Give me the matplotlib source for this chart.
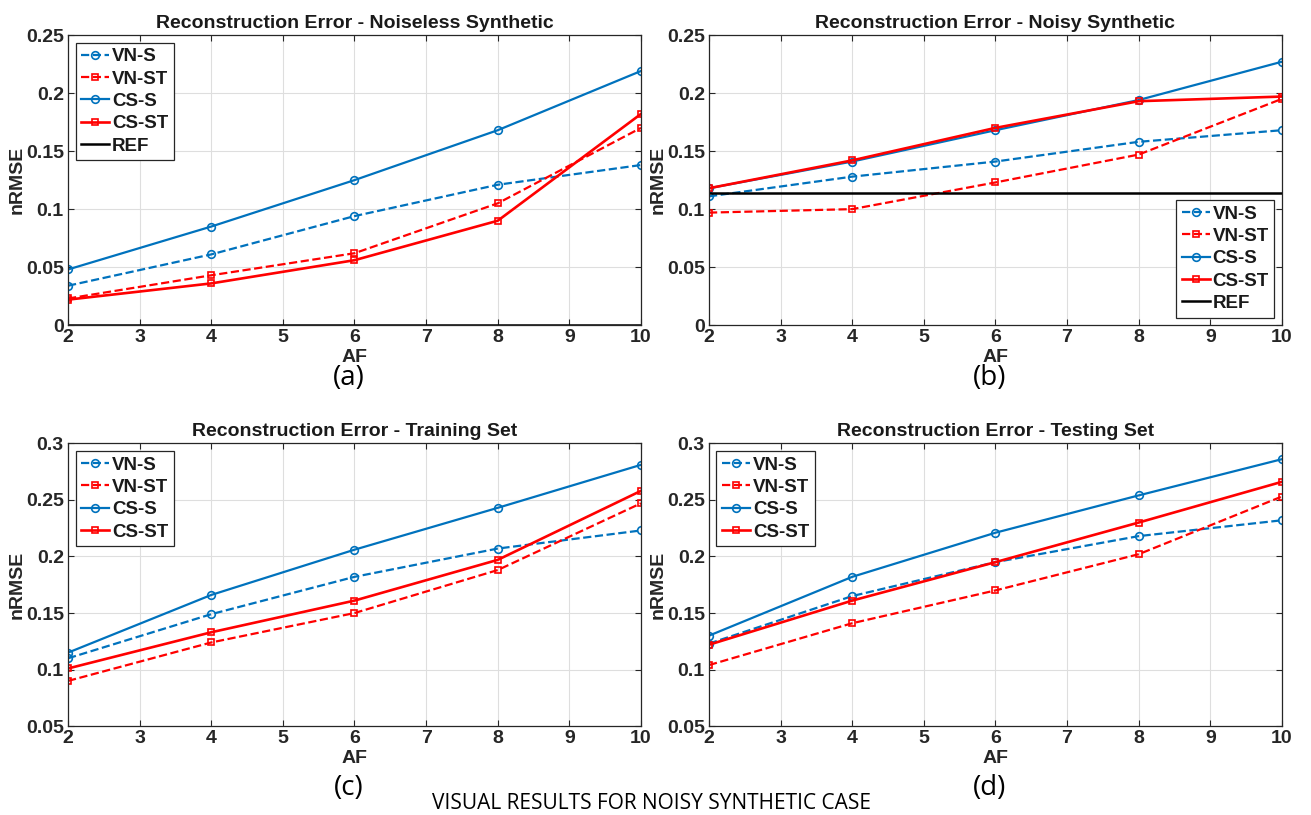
import numpy as np
import matplotlib
matplotlib.use("Agg")
from matplotlib import pyplot as plt

plt.rcParams['font.family'] = ['Liberation Sans', 'DejaVu Sans']

af = [2, 4, 6, 8, 10]

# ---- (a) noiseless synthetic ----
a_vn_s = [0.034, 0.061, 0.094, 0.121, 0.138]
a_vn_st = [0.023, 0.043, 0.062, 0.105, 0.170]
a_cs_s = [0.048, 0.085, 0.125, 0.168, 0.219]
a_cs_st = [0.022, 0.036, 0.056, 0.090, 0.182]
a_ref = 0.0

# ---- (b) noisy synthetic ----
b_vn_s = [0.111, 0.128, 0.141, 0.158, 0.168]
b_vn_st = [0.097, 0.100, 0.123, 0.147, 0.195]
b_cs_s = [0.118, 0.141, 0.168, 0.194, 0.227]
b_cs_st = [0.118, 0.142, 0.170, 0.193, 0.197]
b_ref = 0.114

# ---- (c) training set ----
c_vn_s = [0.110, 0.149, 0.182, 0.207, 0.223]
c_vn_st = [0.090, 0.124, 0.150, 0.188, 0.247]
c_cs_s = [0.115, 0.166, 0.206, 0.243, 0.281]
c_cs_st = [0.101, 0.133, 0.161, 0.197, 0.258]

# ---- (d) testing set ----
d_vn_s = [0.123, 0.165, 0.195, 0.218, 0.232]
d_vn_st = [0.104, 0.141, 0.170, 0.202, 0.253]
d_cs_s = [0.130, 0.182, 0.221, 0.254, 0.286]
d_cs_st = [0.122, 0.161, 0.195, 0.230, 0.266]

titles = ["Reconstruction Error - Noiseless Synthetic",
          "Reconstruction Error - Noisy Synthetic",
          "Reconstruction Error - Training Set",
          "Reconstruction Error - Testing Set"]
captions = ["(a)", "(b)", "(c)", "(d)"]

blue = "#0072BD"
red = "#FF0000"

fig = plt.figure(figsize=(13.11, 8.15), dpi=100)

W = 0.437
boxes = [
    [0.0519, 0.601, W, 0.356],
    [0.5408, 0.601, W, 0.356],
    [0.0519, 0.109, W, 0.347],
    [0.5408, 0.109, W, 0.347],
]
cap_off = [0.065, 0.065, 0.076, 0.076]

data = [
    (a_vn_s, a_vn_st, a_cs_s, a_cs_st, a_ref),
    (b_vn_s, b_vn_st, b_cs_s, b_cs_st, b_ref),
    (c_vn_s, c_vn_st, c_cs_s, c_cs_st, None),
    (d_vn_s, d_vn_st, d_cs_s, d_cs_st, None),
]
ylims = [(0, 0.25), (0, 0.25), (0.05, 0.3), (0.05, 0.3)]
leg_loc = ["upper left", "lower right", "upper left", "upper left"]

for i in range(4):
    ax = fig.add_axes(boxes[i])
    vn_s, vn_st, cs_s, cs_st, ref = data[i]
    ax.plot(af, vn_s, '--o', color=blue, lw=1.6, ms=5.5, mfc='none', mew=1.2, label="VN-S")
    ax.plot(af, vn_st, '--s', color=red, lw=1.6, ms=5, mfc='none', mew=1.2, label="VN-ST")
    ax.plot(af, cs_s, '-o', color=blue, lw=1.6, ms=5.5, mfc='none', mew=1.2, label="CS-S")
    ax.plot(af, cs_st, '-s', color=red, lw=1.9, ms=5, mfc='none', mew=1.2, label="CS-ST")
    if ref is not None:
        ax.axhline(ref, color='black', lw=1.8, label="REF")

    ax.set_xlim(2, 10)
    ax.set_ylim(*ylims[i])
    ax.set_xticks(range(2, 11))
    lo, hi = ylims[i]
    yt = np.round(np.arange(lo, hi + 0.001, 0.05), 2)
    ax.set_yticks(yt)
    ax.set_yticklabels([("%g" % v) for v in yt])
    ax.grid(True, color='#dedede', lw=0.8)
    ax.tick_params(direction='in', labelsize=14, width=0.8, length=4,
                   top=True, right=True, colors='#262626', pad=3)
    for lab in ax.get_xticklabels() + ax.get_yticklabels():
        lab.set_fontweight('bold')
    for sp in ax.spines.values():
        sp.set_color('#262626')
        sp.set_linewidth(0.9)
    ax.set_title(titles[i], fontsize=14, fontweight='bold', pad=5, color='#1a1a1a')
    ax.set_xlabel("AF", fontsize=14, fontweight='bold', color='#262626')
    ax.set_ylabel("nRMSE", fontsize=14, fontweight='bold', color='#262626')
    hpx = boxes[i][3] * 815
    ax.xaxis.set_label_coords(0.5, -24.0 / hpx)
    ax.yaxis.set_label_coords(-0.074, 0.5)
    leg = ax.legend(loc=leg_loc[i], prop={'weight': 'bold', 'size': 13.5},
                    fancybox=False, edgecolor='#262626', framealpha=1,
                    handlelength=1.5, handletextpad=0.15, borderaxespad=0.4,
                    labelspacing=0.28, borderpad=0.3, numpoints=1)
    leg.get_frame().set_linewidth(0.9)
    for t in leg.get_texts():
        t.set_color('#1a1a1a')

    bx = boxes[i]
    fig.text(bx[0] + bx[2] * 0.49, bx[1] - cap_off[i], captions[i], fontsize=20,
             family='Open Sans', ha='center', va='center')

fig.text(0.497, 0.014, "VISUAL RESULTS FOR NOISY SYNTHETIC CASE", fontsize=15,
         family='Open Sans', ha='center', va='center')

fig.savefig("out.png", dpi=100)
